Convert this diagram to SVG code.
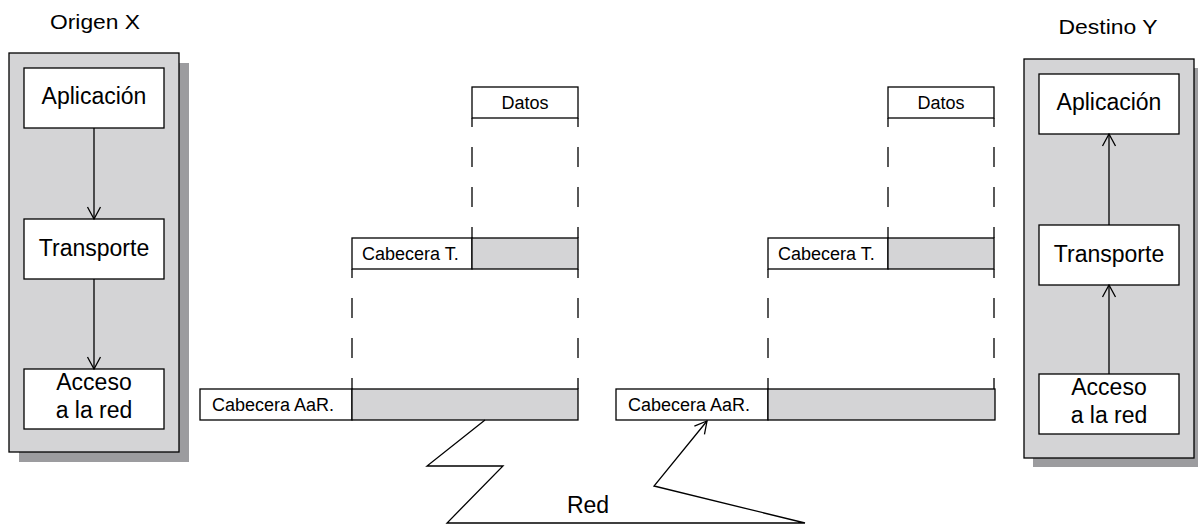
<svg xmlns="http://www.w3.org/2000/svg" width="1198" height="525" viewBox="0 0 1198 525">
  <style>
    text { font-family: "Liberation Sans", Arial, Helvetica, sans-serif; fill: #000; }
    .title { font-size: 20px; text-anchor: middle; }
    .layer { font-size: 23px; text-anchor: middle; }
    .small { font-size: 18px; }
    .smallc { font-size: 18px; text-anchor: middle; }
    .panel { fill: #d4d4d6; stroke: #000; stroke-width: 1.3; }
    .shadow { fill: #9c9c9f; stroke: none; }
    .box { fill: #fff; stroke: #000; stroke-width: 1.3; }
    .bar { fill: #d4d4d6; stroke: #000; stroke-width: 1.3; }
    .link { fill: none; stroke: #000; stroke-width: 1.3; }
    .dash { fill: none; stroke: #000; stroke-width: 1.3; stroke-dasharray: 20 20; stroke-dashoffset: 11; }
  </style>
  <defs>
    <marker id="open-arrow" viewBox="-14 -8 15 16" refX="0" refY="0" markerWidth="15" markerHeight="16" markerUnits="userSpaceOnUse" orient="auto">
      <path d="M-12,-6.5 L0,0 L-12,6.5" fill="none" stroke="#000" stroke-width="1.3"/>
    </marker>
  </defs>

  <rect width="1198" height="525" fill="#fff"/>

  <!-- sending host -->
  <g id="origen">
    <text class="title" x="95" y="29" textLength="90" lengthAdjust="spacingAndGlyphs">Origen X</text>
    <rect class="shadow" x="19" y="63" width="170" height="399"/>
    <rect class="panel" x="9" y="53" width="170" height="399"/>
  </g>
  <g id="origen-aplicacion">
    <rect class="box" x="24" y="68" width="140" height="60"/>
    <text class="layer" x="94" y="104">Aplicación</text>
  </g>
  <g id="origen-transporte">
    <rect class="box" x="24" y="219" width="140" height="60"/>
    <text class="layer" x="94" y="256">Transporte</text>
  </g>
  <g id="origen-acceso">
    <rect class="box" x="24" y="369" width="140" height="60"/>
    <text class="layer" x="94" y="390">Acceso</text>
    <text class="layer" x="94" y="418">a la red</text>
  </g>

  <!-- receiving host -->
  <g id="destino">
    <text class="title" x="1108" y="34" textLength="99" lengthAdjust="spacingAndGlyphs">Destino Y</text>
    <rect class="shadow" x="1033" y="68" width="170" height="399"/>
    <rect class="panel" x="1024" y="59" width="170" height="399"/>
  </g>
  <g id="destino-aplicacion">
    <rect class="box" x="1039" y="74" width="140" height="60"/>
    <text class="layer" x="1109" y="110">Aplicación</text>
  </g>
  <g id="destino-transporte">
    <rect class="box" x="1039" y="225" width="140" height="60"/>
    <text class="layer" x="1109" y="262">Transporte</text>
  </g>
  <g id="destino-acceso">
    <rect class="box" x="1039" y="374" width="140" height="60"/>
    <text class="layer" x="1109" y="395">Acceso</text>
    <text class="layer" x="1109" y="423">a la red</text>
  </g>

  <!-- encapsulation at the sender -->
  <g id="datos-x">
    <rect class="box" x="472" y="87" width="106" height="31"/>
    <text class="smallc" x="525" y="109">Datos</text>
  </g>
  <g id="segmento-x">
    <rect class="box" x="352" y="238" width="120" height="31"/>
    <rect class="bar" x="472" y="238" width="106" height="31"/>
    <text class="small" x="362" y="260">Cabecera T.</text>
  </g>
  <g id="trama-x">
    <rect class="box" x="200" y="389" width="152" height="31"/>
    <rect class="bar" x="352" y="389" width="226" height="31"/>
    <text class="small" x="212" y="411">Cabecera AaR.</text>
  </g>

  <!-- decapsulation at the receiver -->
  <g id="datos-y">
    <rect class="box" x="888" y="87" width="106" height="31"/>
    <text class="smallc" x="941" y="109">Datos</text>
  </g>
  <g id="segmento-y">
    <rect class="box" x="768" y="238" width="120" height="31"/>
    <rect class="bar" x="888" y="238" width="106" height="31"/>
    <text class="small" x="778" y="260">Cabecera T.</text>
  </g>
  <g id="trama-y">
    <rect class="box" x="616" y="389" width="152" height="31"/>
    <rect class="bar" x="768" y="389" width="227" height="31"/>
    <text class="small" x="628" y="411">Cabecera AaR.</text>
  </g>

  <g id="red">
    <text class="layer" x="588" y="513">Red</text>
  </g>

  <g id="connectors">
    <!-- layer flow inside the hosts -->
    <line class="link" x1="94" y1="128" x2="94" y2="219" marker-end="url(#open-arrow)"/>
    <line class="link" x1="94" y1="279" x2="94" y2="369" marker-end="url(#open-arrow)"/>
    <line class="link" x1="1109" y1="374" x2="1109" y2="285" marker-end="url(#open-arrow)"/>
    <line class="link" x1="1109" y1="225" x2="1109" y2="134" marker-end="url(#open-arrow)"/>

    <!-- dashed projection guides -->
    <line class="dash" x1="472" y1="118" x2="472" y2="238"/>
    <line class="dash" x1="578" y1="118" x2="578" y2="238"/>
    <line class="dash" x1="352" y1="269" x2="352" y2="389"/>
    <line class="dash" x1="578" y1="269" x2="578" y2="389"/>
    <line class="dash" x1="888" y1="118" x2="888" y2="238"/>
    <line class="dash" x1="994" y1="118" x2="994" y2="238"/>
    <line class="dash" x1="768" y1="269" x2="768" y2="389"/>
    <line class="dash" x1="994" y1="269" x2="994" y2="389"/>

    <!-- network link -->
    <polyline class="link" points="485,420 427,466 503,466 447,523 805,523 654,486 707,421" marker-end="url(#open-arrow)"/>
  </g>
</svg>
